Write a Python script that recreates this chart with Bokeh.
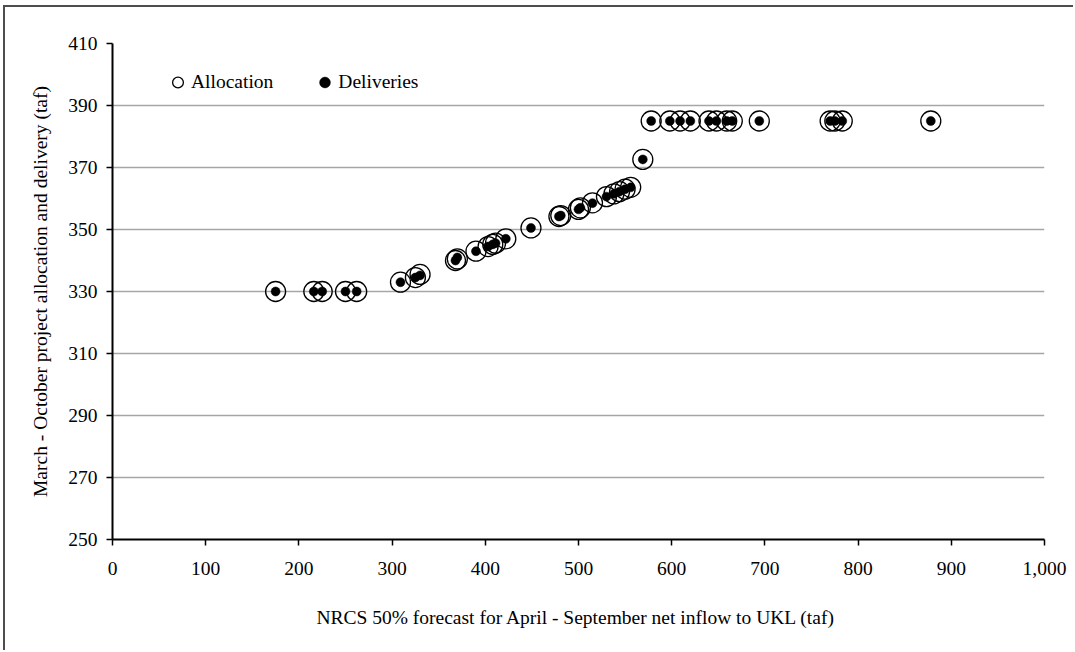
from bokeh.plotting import figure
from bokeh.models import Range1d, NumeralTickFormatter, FixedTicker, Legend, LegendItem
from bokeh.embed import file_html
from bokeh.resources import INLINE

# NRCS 50% forecast of April-September net inflow to UKL (taf)
forecast = [175, 216, 225, 250, 262, 309, 325, 330, 368, 370,
            390, 403, 408, 411, 422, 449, 479, 481, 500, 502,
            515, 530, 538, 544, 550, 556, 569, 578, 598, 609,
            620, 640, 648, 659, 665, 694, 770, 775, 783, 878]

# March-October project allocation (taf)
allocation = [330, 330, 330, 330, 330, 333, 334.5, 335.5, 340, 340.5,
              343, 344.5, 345.2, 345.6, 347, 350.5, 354.2, 354.5, 356.5, 357,
              358.6, 360.6, 361.5, 362.2, 363, 363.6, 372.6, 385, 385, 385,
              385, 385, 385, 385, 385, 385, 385, 385, 385, 385]

# March-October project deliveries (taf)
deliveries = [330, 330, 330, 330, 330, 333, 334.5, 335.2, 340, 341,
              343, 344.5, 345.2, 345.6, 347, 350.5, 354.2, 354.5, 356.5, 357,
              358.5, 360.6, 361.5, 362.2, 363, 363.6, 372.6, 385, 385, 385,
              385, 385, 385, 385, 385, 385, 385, 385, 385, 385]

x_ticks = [0, 100, 200, 300, 400, 500, 600, 700, 800, 900, 1000]
y_ticks = [250, 270, 290, 310, 330, 350, 370, 390, 410]

FONT = "Liberation Serif"
FS = "19.5px"

p = figure(width=1070, height=645,
           x_range=Range1d(0, 1000), y_range=Range1d(250, 410),
           output_backend="svg", toolbar_location=None,
           min_border_left=107, min_border_right=31,
           min_border_top=36, min_border_bottom=113)
p.margin = (5, 0, 0, 3)
p.styles = {"border-top": "2px solid #4d4d4d", "border-left": "2px solid #4d4d4d"}

p.outline_line_color = None
p.background_fill_color = "white"
p.border_fill_color = "white"

alloc_r = p.scatter(forecast, allocation, marker="circle", size=20,
                    fill_color=None, line_color="black", line_width=1.3)
deliv_r = p.scatter(forecast, deliveries, marker="circle", size=9,
                    fill_color="black", line_color="black", line_width=0.5)

# axes
p.xaxis.ticker = FixedTicker(ticks=x_ticks)
p.yaxis.ticker = FixedTicker(ticks=y_ticks)
p.xaxis.formatter = NumeralTickFormatter(format="0,0")
for ax in (p.xaxis[0], p.yaxis[0]):
    ax.axis_line_color = "black"
    ax.axis_line_width = 2
    ax.major_tick_line_color = "black"
    ax.major_tick_line_width = 1.5
    ax.major_tick_out = 6
    ax.major_tick_in = 0
    ax.minor_tick_line_color = None
    ax.major_label_text_font = FONT
    ax.major_label_text_font_size = FS
    ax.major_label_text_color = "black"
    ax.axis_label_text_font = FONT
    ax.axis_label_text_font_size = FS
    ax.axis_label_text_font_style = "normal"
    ax.axis_label_text_color = "black"

p.xaxis.axis_label = "NRCS 50%  forecast for April - September net inflow to UKL (taf)"
p.yaxis.axis_label = "March - October project allocation and delivery (taf)"
p.xaxis.major_label_standoff = 16
p.yaxis.major_label_standoff = 9
p.xaxis.axis_label_standoff = 29
p.yaxis.axis_label_standoff = 14

# grid: horizontal lines only
p.xgrid.grid_line_color = None
p.ygrid.grid_line_color = "#a6a6a6"
p.ygrid.grid_line_width = 1.5

legend = Legend(items=[LegendItem(label="Allocation", renderers=[alloc_r]),
                       LegendItem(label="Deliveries", renderers=[deliv_r])],
                orientation="horizontal", location=(52, 442),
                border_line_color=None, background_fill_alpha=0,
                padding=0, margin=0, spacing=38,
                glyph_width=27, glyph_height=30, label_standoff=-2,
                label_text_font=FONT, label_text_font_size=FS,
                label_text_font_style="normal", label_text_color="black",
                label_height=20)
p.add_layout(legend)

open("out.html", "w").write(file_html(p, INLINE))
